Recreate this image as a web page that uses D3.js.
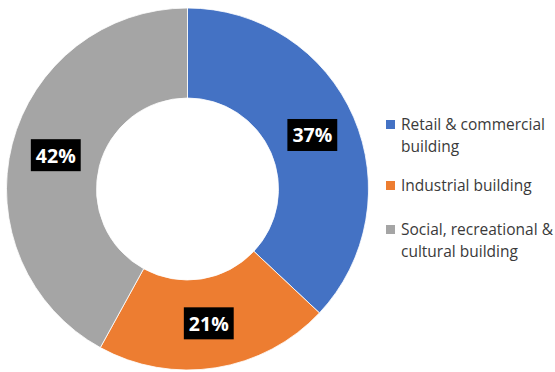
<!DOCTYPE html>
<html>
<head>
<meta charset="utf-8">
<script src="https://cdn.jsdelivr.net/npm/d3@7"></script>
<style>
  html, body { margin: 0; padding: 0; background: #fff; }
  svg { display: block; }
</style>
</head>
<body>
<svg id="chart" width="555" height="372"></svg>
<script>
// Share of buildings by type
const categories = ["Retail & commercial building", "Industrial building", "Social, recreational & cultural building"];
const values = [37, 21, 42];
const legendLines = [["Retail & commercial", "building"], ["Industrial building"], ["Social, recreational &", "cultural building"]];
const colors = ["#4472C4", "#ED7D31", "#A5A5A5"];

const svg = d3.select("#chart");
const cx = 187.5, cy = 189;
const outerR = 181, innerR = 91;
const font = "'Open Sans', 'Liberation Sans', sans-serif";

const pie = d3.pie().sort(null).value(d => d)(values);
const arc = d3.arc().innerRadius(innerR).outerRadius(outerR);
const labelArc = d3.arc().innerRadius((innerR + outerR) / 2).outerRadius((innerR + outerR) / 2);

const g = svg.append("g").attr("transform", `translate(${cx},${cy})`);

g.selectAll("path.slice")
  .data(pie)
  .join("path")
  .attr("class", "slice")
  .attr("d", arc)
  .attr("fill", (d, i) => colors[i])
  .attr("stroke", "#ffffff")
  .attr("stroke-width", 0.8);

// Value labels on black boxes
const labels = g.selectAll("g.lab")
  .data(pie)
  .join("g")
  .attr("class", "lab")
  .attr("transform", d => {
    const [x, y] = labelArc.centroid(d);
    return `translate(${x},${y})`;
  });

labels.each(function(d) {
  const sel = d3.select(this);
  const t = sel.append("text")
    .attr("text-anchor", "middle")
    .attr("dominant-baseline", "central")
    .attr("font-family", font)
    .attr("font-weight", 700)
    .attr("font-size", 19.5)
    .attr("fill", "#ffffff")
    .text(d.data + "%");
  const w = t.node().getComputedTextLength();
  sel.insert("rect", "text")
    .attr("x", -w / 2 - 5)
    .attr("y", -16)
    .attr("width", w + 10)
    .attr("height", 32)
    .attr("fill", "#000000");
});

// Legend
const legendX = 386, lineH = 22;
const legendTops = [120, 181, 225];
const legend = svg.append("g");
categories.forEach((c, i) => {
  const top = legendTops[i];
  legend.append("rect")
    .attr("x", legendX)
    .attr("y", top)
    .attr("width", 9)
    .attr("height", 9)
    .attr("fill", colors[i]);
  const t = legend.append("text")
    .attr("font-family", font)
    .attr("font-size", 15.5)
    .attr("fill", "#3a3a3a");
  legendLines[i].forEach((line, j) => {
    t.append("tspan")
      .attr("x", legendX + 15)
      .attr("y", top + 10 + j * lineH)
      .text(line);
  });
});
</script>
</body>
</html>
